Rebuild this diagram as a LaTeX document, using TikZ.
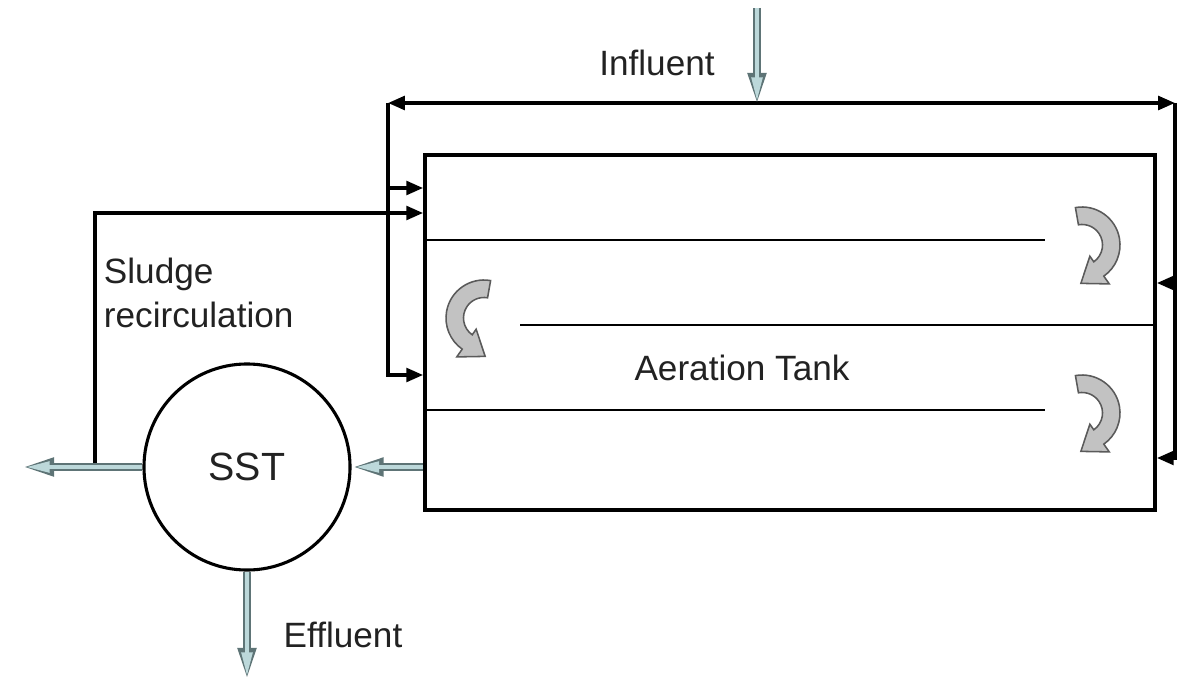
\documentclass[tikz,border=0pt]{standalone}
\usepackage{fontspec}
\setmainfont{Liberation Sans}
\usepackage{xcolor}
\usepackage{tikz}
\usetikzlibrary{arrows.meta}

\definecolor{flowfill}{HTML}{BCD8DA}
\definecolor{flowedge}{HTML}{5E7476}
\definecolor{turnfill}{HTML}{C2C2C2}
\definecolor{turnedge}{HTML}{5A5A5A}
\definecolor{inktext}{HTML}{222222}

\newcommand{\flowarrow}[2]{%
  \draw[flowouter] #1 -- #2;
  \draw[flowinner] #1 -- #2;}

\begin{document}
\begin{tikzpicture}[x=0.025cm, y=-0.025cm,
  font=\fontsize{25}{31}\selectfont,
  every node/.style={text=inktext},
  tankbox/.style={draw, line width=2.5pt, minimum width=18.25cm, minimum height=8.875cm, inner sep=0pt},
  baffle/.style={line width=1.5pt},
  feed/.style={line width=2.5pt, -{Triangle[length=0.42cm, width=0.34cm]}},
  flowouter/.style={draw=flowedge, line width=0.19cm, -{Triangle[length=0.8cm, width=0.42cm]}},
  flowinner/.style={draw=flowfill, line width=0.1cm, shorten >=0.09cm, -{Triangle[length=0.6cm, width=0.26cm]}},
  pics/turn/.style={code={
    \draw[fill=turnfill, draw=turnedge, line width=1.1pt]
      (100:1) arc[start angle=100, end angle=-55, radius=1]
      -- (-55:1.25) -- (-0.03,-1.01) -- (-55:0.36)
      -- (-55:0.54) arc[start angle=-55, end angle=100, radius=0.54] -- cycle;
  }}
]
\useasboundingbox (0,0) rectangle (1194,682);

% aeration tank with baffles
\node[tankbox] (tank) at (790,332.5) {};
\draw[baffle] (tank.west |- 0,240) -- (1045,240);
\draw[baffle] (520,325) -- (tank.east |- 0,325);
\draw[baffle] (tank.west |- 0,410) -- (1045,410);
\node (aeration) at (742,368) {Aeration Tank};

\pic[xscale=38, yscale=-38] at (1082,245) {turn};
\pic[xscale=38, yscale=-38] at (1082,413) {turn};
\pic[xscale=-38, yscale=-38] at (484,318) {turn};

% step feed header
\coordinate (hl) at (388,103);
\coordinate (hr) at (1175,103);
\draw[feed, {Triangle[length=0.42cm, width=0.34cm]}-{Triangle[length=0.42cm, width=0.34cm]}] (hl) -- (hr);
\draw[feed] (hl) |- (tank.west |- 0,375);
\draw[feed] (hl |- 0,188) -- (tank.west |- 0,188);
\draw[feed] (hr) |- (tank.east |- 0,458);
\draw[feed] (hr |- 0,283) -- (tank.east |- 0,283);

\coordinate (infeed) at (757,8);
\coordinate (injoin) at (757,105);
\flowarrow{(infeed)}{(injoin)}
\node (influent) at (657,63) {Influent};

% clarifier
\node[circle, draw, line width=2.2pt, minimum size=5.15cm, inner sep=0pt, font=\fontsize{28}{32}\selectfont] (sst) at (247,467) {SST};
\flowarrow{(tank.west |- sst)}{(sst.east)}

\coordinate (waste) at (22,467);
\coordinate (outlet) at (247,680);
\coordinate (ras) at (95,463);
\flowarrow{(sst.west)}{(waste)}
\flowarrow{(sst.south)}{(outlet)}
\node (effluent) at (343,635) {Effluent};

\draw[feed] (ras) |- (tank.west |- 0,213);
\node[align=left, anchor=west] (sludge) at (99,293) {Sludge\\recirculation};
\end{tikzpicture}
\end{document}
